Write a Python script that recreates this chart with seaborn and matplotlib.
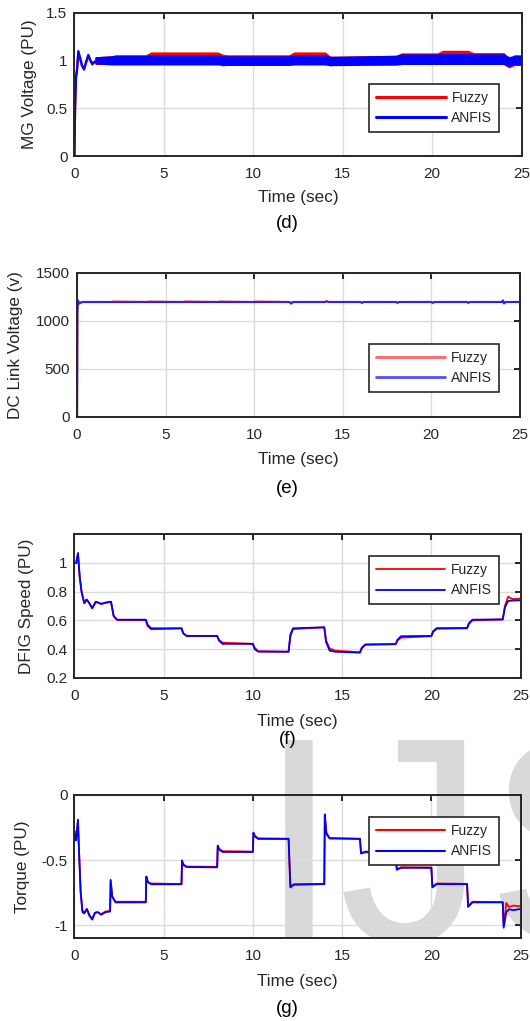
import matplotlib

matplotlib.use("Agg")

import matplotlib.pyplot as plt
import pandas as pd
import seaborn as sns
from matplotlib.lines import Line2D
from matplotlib.transforms import Bbox

FIG_W, FIG_H, DPI = 530, 1021, 100
INK = "#262626"
FUZZY_COLOR = "#ff0000"
ANFIS_COLOR = "#0000ff"

# ---- (d) MG voltage: start-up transient + switching ripple band ----
d_start_time = [0.0, 0.04, 0.09, 0.14, 0.22, 0.32, 0.42, 0.54, 0.66, 0.78, 0.9, 1.0, 1.15, 1.3]
d_start_fuzzy = [0.0, 0.55, 0.85, 0.9, 1.08, 1.02, 0.95, 0.92, 0.98, 1.05, 1.0, 0.97, 0.99, 1.0]
d_start_anfis = [0.0, 0.5, 0.82, 0.88, 1.1, 1.03, 0.95, 0.906, 0.99, 1.06, 1.0, 0.96, 0.99, 1.0]

d_band_time = [1.2, 2.1, 2.3, 4.0, 4.3, 8.0, 8.3, 8.6, 12.0, 12.3, 14.0, 14.3, 14.6,
               18.0, 18.3, 20.3, 20.6, 22.0, 22.3, 24.0, 24.3, 24.6, 25.0]
d_fuzzy_upper = [1.03, 1.04, 1.05, 1.05, 1.08, 1.08, 1.055, 1.05, 1.05, 1.08, 1.08, 1.035, 1.035,
                 1.045, 1.07, 1.07, 1.097, 1.097, 1.073, 1.073, 1.0, 1.05, 1.05]
d_fuzzy_lower = [0.97, 0.97, 0.97, 0.97, 0.975, 0.975, 0.955, 0.965, 0.965, 0.975, 0.975, 0.955, 0.965,
                 0.965, 0.97, 0.97, 0.975, 0.975, 0.97, 0.97, 0.935, 0.96, 0.96]
d_anfis_upper = [1.03, 1.04, 1.045, 1.045, 1.05, 1.05, 1.04, 1.04, 1.04, 1.05, 1.05, 1.035, 1.035,
                 1.045, 1.06, 1.06, 1.063, 1.063, 1.06, 1.06, 1.03, 1.045, 1.045]
d_anfis_lower = [0.975, 0.965, 0.965, 0.965, 0.965, 0.965, 0.962, 0.96, 0.96, 0.965, 0.965, 0.958, 0.958,
                 0.965, 0.97, 0.97, 0.97, 0.97, 0.97, 0.97, 0.95, 0.965, 0.965]

# ---- (e) DC link voltage ----
e_time = [0.0, 0.02, 0.05, 0.12, 0.2, 0.3, 2.0, 2.05, 4.0, 4.05, 6.0, 6.05, 8.0, 8.05, 10.0, 10.05,
          12.0, 12.1, 12.2, 14.0, 14.1, 14.2, 16.0, 16.1, 16.2, 18.0, 18.1, 18.2, 20.0, 20.1, 20.2,
          22.0, 22.1, 22.2, 24.0, 24.06, 24.12, 24.2, 25.0]
e_fuzzy = [0.0, 1100.0, 1210.0, 1190.0, 1195.0, 1200.0, 1200.0, 1205.0, 1200.0, 1205.0, 1200.0, 1206.0,
           1200.0, 1205.0, 1200.0, 1205.0, 1200.0, 1190.0, 1200.0, 1200.0, 1208.0, 1200.0, 1200.0, 1195.0,
           1200.0, 1200.0, 1195.0, 1200.0, 1200.0, 1195.0, 1200.0, 1200.0, 1195.0, 1200.0, 1200.0, 1212.0,
           1190.0, 1200.0, 1200.0]
e_anfis = [0.0, 1100.0, 1215.0, 1180.0, 1190.0, 1197.0, 1197.0, 1197.0, 1197.0, 1197.0, 1197.0, 1197.0,
           1197.0, 1197.0, 1197.0, 1197.0, 1197.0, 1180.0, 1197.0, 1197.0, 1205.0, 1197.0, 1197.0, 1188.0,
           1197.0, 1197.0, 1188.0, 1197.0, 1197.0, 1188.0, 1197.0, 1197.0, 1188.0, 1197.0, 1197.0, 1215.0,
           1182.0, 1197.0, 1197.0]

# ---- (f) DFIG speed ----
f_time = [0.0, 0.1, 0.2, 0.3, 0.4, 0.55, 0.68, 0.81, 1.0, 1.2, 1.5, 1.8, 2.05, 2.2, 2.4,
          4.0, 4.1, 4.3, 6.0, 6.1, 6.3, 8.0, 8.1, 8.3, 10.0, 10.1, 10.3, 12.0, 12.1, 12.25,
          14.0, 14.1, 14.3, 14.6, 16.0, 16.1, 16.3, 18.0, 18.1, 18.3, 20.0, 20.1, 20.3,
          22.0, 22.1, 22.3, 24.0, 24.12, 24.3, 24.55, 25.0]
f_fuzzy = [1.0, 1.0, 1.06, 0.9, 0.8, 0.72, 0.745, 0.725, 0.685, 0.73, 0.715, 0.725, 0.73, 0.63, 0.602,
           0.602, 0.56, 0.538, 0.545, 0.51, 0.49, 0.492, 0.465, 0.445, 0.437, 0.41, 0.385, 0.382, 0.49, 0.54,
           0.552, 0.46, 0.405, 0.39, 0.378, 0.405, 0.43, 0.435, 0.46, 0.48, 0.49, 0.52, 0.542,
           0.545, 0.575, 0.6, 0.607, 0.7, 0.765, 0.748, 0.752]
f_anfis = [1.0, 1.0, 1.07, 0.9, 0.8, 0.72, 0.745, 0.725, 0.685, 0.73, 0.715, 0.725, 0.73, 0.63, 0.605,
           0.605, 0.57, 0.545, 0.545, 0.51, 0.492, 0.492, 0.46, 0.437, 0.437, 0.4, 0.383, 0.382, 0.5, 0.545,
           0.552, 0.45, 0.39, 0.382, 0.376, 0.41, 0.433, 0.435, 0.465, 0.49, 0.492, 0.525, 0.546,
           0.547, 0.58, 0.605, 0.607, 0.69, 0.735, 0.738, 0.74]

# ---- (g) Torque ----
g_time = [0.0, 0.05, 0.1, 0.2, 0.25, 0.35, 0.45, 0.55, 0.7, 0.85, 1.0, 1.15, 1.3, 1.5, 1.75, 2.0,
          2.03, 2.12, 2.3, 4.0, 4.03, 4.12, 4.3, 6.0, 6.03, 6.12, 6.3, 8.0, 8.03, 8.12, 8.3,
          10.0, 10.03, 10.12, 10.3, 12.0, 12.1, 12.3, 14.0, 14.03, 14.12, 14.3, 16.0, 16.06, 16.3,
          18.0, 18.06, 18.3, 20.0, 20.06, 20.3, 22.0, 22.06, 22.3, 24.0, 24.05, 24.2, 24.35, 24.6, 25.0]
g_fuzzy = [-0.33, -0.28, -0.33, -0.2, -0.4, -0.74, -0.89, -0.9, -0.875, -0.925, -0.95, -0.905, -0.9,
           -0.915, -0.895, -0.89, -0.66, -0.78, -0.82, -0.82, -0.63, -0.67, -0.68, -0.684, -0.51, -0.535,
           -0.55, -0.552, -0.395, -0.415, -0.432, -0.435, -0.295, -0.315, -0.333, -0.336, -0.7, -0.685,
           -0.682, -0.16, -0.29, -0.33, -0.336, -0.445, -0.435, -0.438, -0.57, -0.555, -0.557, -0.705,
           -0.68, -0.683, -0.855, -0.82, -0.823, -1.0, -0.83, -0.86, -0.85, -0.855]
g_anfis = [-0.35, -0.3, -0.35, -0.19, -0.4, -0.75, -0.9, -0.91, -0.878, -0.93, -0.957, -0.905, -0.9,
           -0.92, -0.9, -0.895, -0.652, -0.78, -0.825, -0.825, -0.626, -0.67, -0.686, -0.686, -0.503,
           -0.54, -0.554, -0.556, -0.389, -0.42, -0.438, -0.438, -0.29, -0.32, -0.338, -0.338, -0.71,
           -0.69, -0.685, -0.15, -0.3, -0.335, -0.338, -0.45, -0.44, -0.44, -0.575, -0.56, -0.56, -0.71,
           -0.685, -0.685, -0.86, -0.825, -0.825, -1.02, -0.9, -0.878, -0.885, -0.875]

X_TICKS = [0, 5, 10, 15, 20, 25]


def long_frame(time, fuzzy, anfis):
    return pd.DataFrame(
        {
            "time": list(time) * 2,
            "value": list(fuzzy) + list(anfis),
            "controller": ["Fuzzy"] * len(time) + ["ANFIS"] * len(time),
        }
    )


def add_panel(fig, left, top, right, bottom):
    ax = fig.add_axes(
        [left / FIG_W, 1 - bottom / FIG_H, (right - left) / FIG_W, (bottom - top) / FIG_H]
    )
    ax.set_zorder(1)
    ax.patch.set_facecolor("none")
    return ax


def style_panel(ax, ylim, yticks, ylabel, ylabel_x, xlabel_y, ytick_labels=None):
    ax.set_xlim(0, 25)
    ax.set_ylim(*ylim)
    ax.set_xticks(X_TICKS)
    ax.set_yticks(yticks)
    if ytick_labels is not None:
        ax.set_yticklabels(ytick_labels)
    ax.grid(True, color="#dcdcdc", linewidth=1.0)
    ax.set_axisbelow(True)
    for spine in ax.spines.values():
        spine.set_visible(True)
        spine.set_color(INK)
        spine.set_linewidth(1.4)
    ax.tick_params(axis="both", direction="in", length=4, width=1.4, color=INK,
                   labelcolor=INK, labelsize=11, top=True, right=True)
    ax.tick_params(axis="x", pad=8)
    ax.tick_params(axis="y", pad=5)
    ax.set_xlabel("Time (sec)", fontsize=12.3, color=INK, va="center")
    ax.set_ylabel(ylabel, fontsize=12.3, color=INK, va="center")
    pos = ax.get_position()
    ax.yaxis.set_label_coords((ylabel_x / FIG_W - pos.x0) / pos.width, 0.5)
    ax.xaxis.set_label_coords(0.5, ((1 - xlabel_y / FIG_H) - pos.y0) / pos.height)


def add_legend(ax, lw, loc, anchor):
    handles = [
        Line2D([], [], color=FUZZY_COLOR, lw=lw),
        Line2D([], [], color=ANFIS_COLOR, lw=lw),
    ]
    leg = ax.legend(handles, ["Fuzzy", "ANFIS"], loc=loc, bbox_to_anchor=anchor,
                    borderaxespad=0, fontsize=10, handlelength=5.0, handletextpad=0.4,
                    borderpad=0.5, labelspacing=0.45, fancybox=False, framealpha=1,
                    edgecolor=INK)
    leg.get_frame().set_linewidth(1.2)
    for text in leg.get_texts():
        text.set_color(INK)
    return leg


def main():
    sns.set_theme(style="white")
    plt.rcParams["font.family"] = ["Liberation Sans", "DejaVu Sans"]

    fig = plt.figure(figsize=(FIG_W / DPI, FIG_H / DPI), dpi=DPI, facecolor="white")
    palette = {"Fuzzy": FUZZY_COLOR, "ANFIS": ANFIS_COLOR}

    # light grey watermark behind the lower panels, cut at the bottom of panel (g)
    mark = fig.text(258 / FIG_W, 1 - 942 / FIG_H, "IJS", fontsize=212, color="#d9d9d9",
                    ha="left", va="baseline", zorder=0)
    mark.set_clip_box(Bbox.from_extents(0, FIG_H - 938, FIG_W, FIG_H))

    # (d)
    ax_d = add_panel(fig, 74.4, 12.8, 521.6, 156.2)
    ax_d.fill_between(d_band_time, d_fuzzy_lower, d_fuzzy_upper, color=FUZZY_COLOR, lw=1.5,
                      edgecolor=FUZZY_COLOR)
    ax_d.fill_between(d_band_time, d_anfis_lower, d_anfis_upper, color=ANFIS_COLOR, lw=1.5,
                      edgecolor=ANFIS_COLOR)
    sns.lineplot(data=long_frame(d_start_time, d_start_fuzzy, d_start_anfis), x="time", y="value",
                 hue="controller", hue_order=["Fuzzy", "ANFIS"], palette=palette,
                 estimator=None, sort=False, lw=1.6, legend=False, ax=ax_d)
    style_panel(ax_d, (0, 1.5), [0, 0.5, 1, 1.5], "MG Voltage (PU)", 29.7, 197.8,
                ["0", "0.5", "1", "1.5"])
    add_legend(ax_d, 2.2, "lower right", (0.950, 0.170))

    # (e)
    ax_e = add_panel(fig, 77.1, 273, 519.6, 417)
    sns.lineplot(data=long_frame(e_time, e_fuzzy, e_anfis), x="time", y="value",
                 hue="controller", hue_order=["Fuzzy", "ANFIS"],
                 palette={"Fuzzy": "#ff5a5a", "ANFIS": "#2020ff"},
                 estimator=None, sort=False, lw=1.4, legend=False, ax=ax_e)
    style_panel(ax_e, (0, 1500), [0, 500, 1000, 1500], "DC Link Voltage (v)", 15.5, 459.6)
    leg_e = add_legend(ax_e, 2.0, "lower right", (0.953, 0.174))
    leg_e.get_lines()[0].set_color("#ff6464")
    leg_e.get_lines()[1].set_color("#5050ff")

    # (f)
    ax_f = add_panel(fig, 74.4, 534.2, 520.6, 677.9)
    sns.lineplot(data=long_frame(f_time, f_fuzzy, f_anfis), x="time", y="value",
                 hue="controller", hue_order=["Fuzzy", "ANFIS"], palette=palette,
                 estimator=None, sort=False, lw=1.3, legend=False, ax=ax_f)
    style_panel(ax_f, (0.2, 1.2), [0.2, 0.4, 0.6, 0.8, 1.0], "DFIG Speed (PU)", 27.0, 721,
                ["0.2", "0.4", "0.6", "0.8", "1"])
    add_legend(ax_f, 1.3, "upper right", (0.951, 0.847))

    # (g)
    ax_g = add_panel(fig, 74.4, 794.9, 520.6, 938.2)
    sns.lineplot(data=long_frame(g_time, g_fuzzy, g_anfis), x="time", y="value",
                 hue="controller", hue_order=["Fuzzy", "ANFIS"], palette=palette,
                 estimator=None, sort=False, lw=1.3, legend=False, ax=ax_g)
    style_panel(ax_g, (-1.1, 0), [-1, -0.5, 0], "Torque (PU)", 22.3, 981.8, ["-1", "-0.5", "0"])
    add_legend(ax_g, 1.5, "upper right", (0.951, 0.844))

    # panel captions
    for caption, y_px in [("(d)", 223), ("(e)", 488.5), ("(f)", 739.5), ("(g)", 1008)]:
        fig.text(287.5 / FIG_W, 1 - y_px / FIG_H, caption, fontsize=13.5, color="black",
                 ha="center", va="center", zorder=5)

    fig.savefig("out.png", dpi=DPI, facecolor="white")
    plt.close(fig)


if __name__ == "__main__":
    main()
